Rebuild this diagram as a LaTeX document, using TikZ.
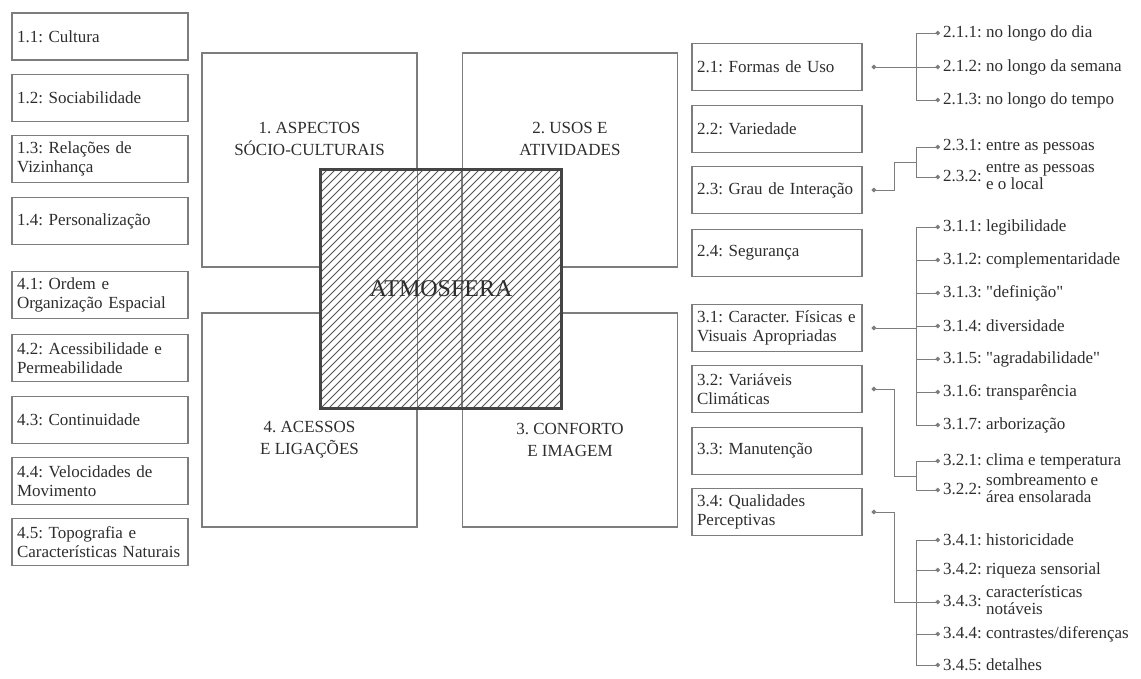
\documentclass[tikz,border=0pt]{standalone}
\usepackage{fontspec}
\setmainfont{Liberation Serif}
\usetikzlibrary{arrows.meta,calc}
\frenchspacing

\definecolor{boxgray}{RGB}{125,125,125}
\definecolor{txtgray}{RGB}{45,45,45}
\definecolor{hatchgray}{RGB}{85,85,85}

\tikzset{
  subbox/.style={draw=boxgray, line width=1.2pt, minimum width=176pt, minimum height=47pt,
    text width=166pt, inner xsep=5pt, align=left, text=txtgray},
  rightbox/.style={subbox, minimum width=170pt, text width=160pt},
  quadbox/.style={draw=boxgray, line width=1.2pt, minimum width=215pt, minimum height=214pt},
  quadlabel/.style={text=txtgray, align=center},
  item/.style={anchor=west, inner xsep=3pt, inner ysep=1pt, text=txtgray},
  link/.style={draw=boxgray, line width=0.9pt},
  dotstart/.style={{Circle[length=4.5pt]}-},
  dotend/.style={-{Circle[length=4.5pt]}},
  dotboth/.style={{Circle[length=4.5pt]}-{Circle[length=4.5pt]}}
}
\newcommand{\twoline}[2]{\begin{tabular}[c]{@{}l@{}}#1\\[-2pt]#2\end{tabular}}

\begin{document}
\begin{tikzpicture}[x=1pt, y=-1pt, font=\fontsize{17}{19}\selectfont]
			\useasboundingbox (0,0) rectangle (1141,679);

			% Left column
			\node[subbox] (b11) at (100,36.5) {1.1: Cultura};
			\node[subbox] (b12) at (100,98) {1.2: Sociabilidade};
			\node[subbox] (b13) at (100,159) {1.3: Relações de\\Vizinhança};
			\node[subbox] (b14) at (100,221) {1.4: Personalização};
			\node[subbox] (b41) at (100,295) {4.1: Ordem e\\Organização Espacial};
			\node[subbox] (b42) at (100,358) {4.2: Acessibilidade e\\Permeabilidade};
			\node[subbox] (b43) at (100,420) {4.3: Continuidade};
			\node[subbox] (b44) at (100,481) {4.4: Velocidades de\\Movimento};
			\node[subbox] (b45) at (100,542) {4.5: Topografia e\\Características Naturais};

			% Quadrants
			\node[quadbox] (q1) at (309.5,160) {};
			\node[quadbox] (q2) at (570,160) {};
			\node[quadbox] (q4) at (309.5,420) {};
			\node[quadbox] (q3) at (570,420) {};
			\node[quadlabel] (l1) at (309.5,139) {1. ASPECTOS\\[3pt]SÓCIO-CULTURAIS};
			\node[quadlabel] (l2) at (570,139) {2. USOS E\\[3pt]ATIVIDADES};
			\node[quadlabel] (l4) at (309.5,440) {4. ACESSOS\\[3pt]E LIGAÇÕES};
			\node[quadlabel] (l3) at (570,440) {3. CONFORTO\\[3pt]E IMAGEM};

			% Atmosfera
			\node[fill=white, minimum width=240pt, minimum height=238pt] (atm) at (441,289) {};
			\draw[boxgray, line width=1.2pt] (q1.north east |- atm.north) -- (q4.south east |- atm.south);
			\draw[boxgray, line width=1.2pt] (q2.north west |- atm.north) -- (q3.south west |- atm.south);
			\begin{scope}
				\clip (atm.south west) rectangle (atm.north east);
				\foreach \i in {0,8,...,480}
					\draw[hatchgray, line width=0.8pt] ($(atm.south west)+(\i-240,0)$) -- ++(240,-240);
			\end{scope}
			\draw[hatchgray!80!black, line width=3pt] (atm.south west) rectangle (atm.north east);
			\node[text=txtgray, font=\fontsize{24}{28}\selectfont] (atmtxt) at (atm.center) {ATMOSFERA};

			% Right column
			\node[rightbox] (b21) at (777,67) {2.1: Formas de Uso};
			\node[rightbox] (b22) at (777,129) {2.2: Variedade};
			\node[rightbox] (b23) at (777,190) {2.3: Grau de Interação};
			\node[rightbox] (b24) at (777,253) {2.4: Segurança};
			\node[rightbox] (b31) at (777,328) {3.1: Caracter. Físicas e\\Visuais Apropriadas};
			\node[rightbox] (b32) at (777,389) {3.2: Variáveis\\Climáticas};
			\node[rightbox] (b33) at (777,451) {3.3: Manutenção};
			\node[rightbox] (b34) at (777,512) {3.4: Qualidades\\Perceptivas};

			% Items
			\node[item] (i211) at (940,33) {2.1.1: no longo do dia};
			\node[item] (i212) at (940,67) {2.1.2: no longo da semana};
			\node[item] (i213) at (940,100) {2.1.3: no longo do tempo};
			\node[item] (i231) at (940,147) {2.3.1: entre as pessoas};
			\node[item] (i232) at (940,177) {2.3.2: \twoline{entre as pessoas}{e o local}};
			\foreach \k/\yy/\txt in {1/227/legibilidade, 2/260/complementaridade, 3/293/\textquotedbl definição\textquotedbl,
				4/326/diversidade, 5/359/\textquotedbl agradabilidade\textquotedbl, 6/392/transparência, 7/425/arborização}
				\node[item] (i31\k) at (940,\yy) {3.1.\k: \txt};
			\node[item] (i321) at (940,461) {3.2.1: clima e temperatura};
			\node[item] (i322) at (940,490) {3.2.2: \twoline{sombreamento e}{área ensolarada}};
			\node[item] (i341) at (940,540) {3.4.1: historicidade};
			\node[item] (i342) at (940,570) {3.4.2: riqueza sensorial};
			\node[item] (i343) at (940,602) {3.4.3: \twoline{características}{notáveis}};
			\node[item] (i344) at (940,634) {3.4.4: contrastes/diferenças};
			\node[item] (i345) at (940,665) {3.4.5: detalhes};

			% Connectors
			\coordinate (bx) at (916,0);
			\coordinate (k23) at (894,162);
			\coordinate (k32) at (894,476);
			\coordinate (k34) at (894,602);
			\foreach \b in {21,23,31,32,34}
				\coordinate (d\b) at ($(b\b.east)+(9,0)$);

			\draw[link, dotboth] (d21) -- (i212.west);
			\draw[link] (bx |- i211.west) -- (bx |- i213.west);
			\draw[link, dotend] (bx |- i211.west) -- (i211.west);
			\draw[link, dotend] (bx |- i213.west) -- (i213.west);

			\draw[link, dotstart] (d23) -| (k23) -- (bx |- k23);
			\draw[link] (bx |- i231.west) -- (bx |- i232.west);
			\draw[link, dotend] (bx |- i231.west) -- (i231.west);
			\draw[link, dotend] (bx |- i232.west) -- (i232.west);

			\draw[link, dotstart] (d31) -- (bx |- d31);
			\draw[link] (bx |- i311.west) -- (bx |- i317.west);
			\foreach \k in {1,...,7}
				\draw[link, dotend] (bx |- i31\k.west) -- (i31\k.west);

			\draw[link, dotstart] (d32) -| (k32) -- (bx |- k32);
			\draw[link] (bx |- i321.west) -- (bx |- i322.west);
			\draw[link, dotend] (bx |- i321.west) -- (i321.west);
			\draw[link, dotend] (bx |- i322.west) -- (i322.west);

			\draw[link, dotstart] (d34) -| (k34) -- (bx |- k34);
			\draw[link] (bx |- i341.west) -- (bx |- i345.west);
			\foreach \k in {1,...,5}
				\draw[link, dotend] (bx |- i34\k.west) -- (i34\k.west);
\end{tikzpicture}
\end{document}
